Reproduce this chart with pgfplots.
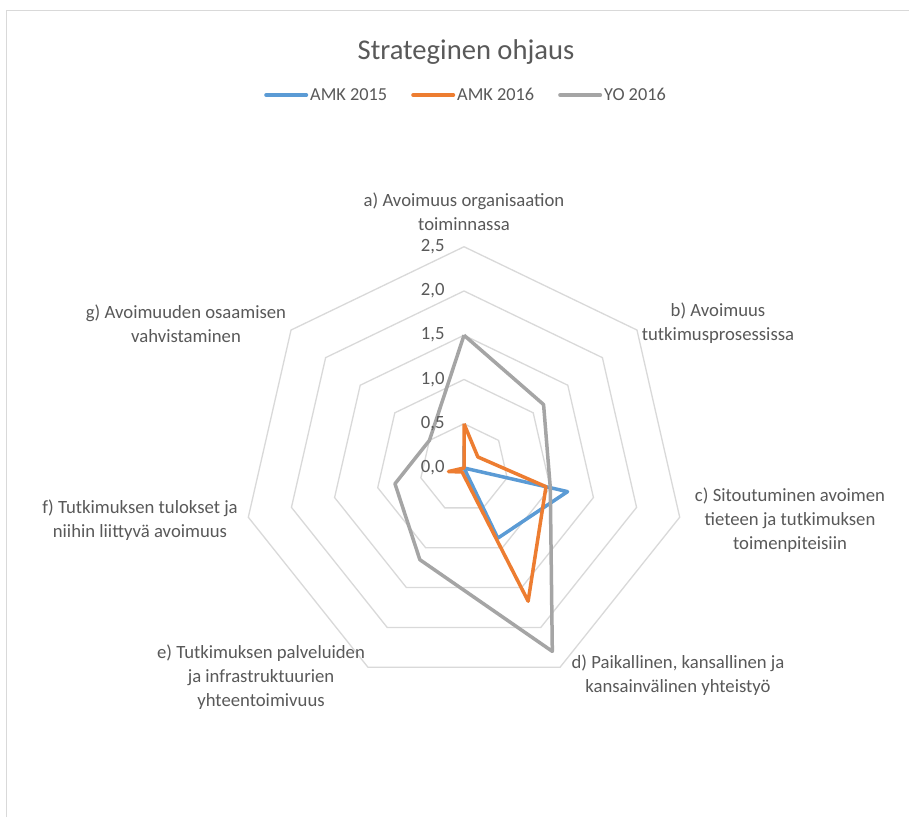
\documentclass[border=0pt]{standalone}
\usepackage{pgfplots}
\pgfplotsset{compat=1.18}
\usepackage{pgfplotstable}
\usepackage{fontspec}
\setmainfont{Carlito}
\definecolor{cblue}{HTML}{5B9BD5}
\definecolor{corange}{HTML}{ED7D31}
\definecolor{cgray}{HTML}{A5A5A5}
\definecolor{ctext}{HTML}{595959}
\definecolor{cgrid}{HTML}{D9D9D9}

% angles of the seven spokes (clockwise from top), closed
\pgfplotstableread{
ang one
90 1
38.5714 1
-12.8571 1
-64.2857 1
-115.7143 1
-167.1429 1
-218.5714 1
-270 1
}\angles

% AMK 2015
\pgfplotstableread{
ang r
90 0.25
38.5714 0
-12.8571 1.2
-64.2857 0.88
-115.7143 0
-167.1429 0
-218.5714 0
-270 0.25
}\amkA

% AMK 2016
\pgfplotstableread{
ang r
90 0.5
38.5714 0.2
-12.8571 0.95
-64.2857 1.67
-115.7143 0.05
-167.1429 0.18
-218.5714 0
-270 0.5
}\amkB

% YO 2016
\pgfplotstableread{
ang r
90 1.5
38.5714 1.15
-12.8571 1.0
-64.2857 2.3
-115.7143 1.15
-167.1429 0.8
-218.5714 0.5
-270 1.5
}\yoB

\begin{document}
\begin{tikzpicture}
\path[use as bounding box] (0,0) rectangle (909pt,817pt);
\fill[white] (0,0) rectangle (909pt,817pt);
\draw[cgrid, line width=1pt] (6pt,0) -- (6pt,806pt) -- (909pt,806pt);
\begin{axis}[
  at={(0,0)}, anchor=south west,
  scale only axis, width=909pt, height=817pt,
  xmin=-5.2429, xmax=5.0282, ymin=-3.9435, ymax=5.2881,
  hide axis, clip=false,
  legend columns=3,
  legend style={at={(0.5127,0.8837)}, anchor=center, draw=none, fill=none,
    font=\fontsize{18.3}{22}\selectfont, text=ctext,
    /tikz/every even column/.append style={column sep=22pt}},
  legend image code/.code={\draw[#1, line cap=round, line width=4pt] (0pt,0pt) -- (40pt,0pt);},
]
\pgfplotsinvokeforeach{0.5,1.0,1.5,2.0,2.5}{
  \addplot[cgrid, line width=1.3pt, forget plot]
    table[x expr={#1*\thisrow{one}*cos(\thisrow{ang})}, y expr={#1*\thisrow{one}*sin(\thisrow{ang})}] {\angles};
}
\addplot[cblue, line width=3.5pt, line join=round]
  table[x expr={\thisrow{r}*cos(\thisrow{ang})}, y expr={\thisrow{r}*sin(\thisrow{ang})}] {\amkA};
\addlegendentry{AMK 2015}
\addplot[corange, line width=3.5pt, line join=round]
  table[x expr={\thisrow{r}*cos(\thisrow{ang})}, y expr={\thisrow{r}*sin(\thisrow{ang})}] {\amkB};
\addlegendentry{AMK 2016}
\addplot[cgray, line width=3.5pt, line join=round]
  table[x expr={\thisrow{r}*cos(\thisrow{ang})}, y expr={\thisrow{r}*sin(\thisrow{ang})}] {\yoB};
\addlegendentry{YO 2016}
\end{axis}
\begin{scope}[every node/.style={text=ctext, font=\fontsize{18.7}{24}\selectfont}]
% radial tick labels
\node[anchor=east] at (448pt,349pt) {0,0};
\node[anchor=east] at (448pt,393pt) {0,5};
\node[anchor=east] at (448pt,437pt) {1,0};
\node[anchor=east] at (448pt,482pt) {1,5};
\node[anchor=east] at (448pt,526pt) {2,0};
\node[anchor=east] at (448pt,570pt) {2,5};
% category labels
\node[align=center] at (464pt,605pt) {a) Avoimuus organisaation\\toiminnassa};
\node[align=center] at (718pt,494pt) {b) Avoimuus\\tutkimusprosessissa};
\node[align=center] at (790pt,297pt) {c) Sitoutuminen avoimen\\tieteen ja tutkimuksen\\toimenpiteisiin};
\node[align=center] at (678pt,142pt) {d) Paikallinen, kansallinen ja\\kansainvälinen yhteistyö};
\node[align=center] at (261pt,140pt) {e) Tutkimuksen palveluiden\\ja infrastruktuurien\\yhteentoimivuus};
\node[align=center] at (140pt,297pt) {f) Tutkimuksen tulokset ja\\niihin liittyvä avoimuus};
\node[align=center] at (186pt,493pt) {g) Avoimuuden osaamisen\\vahvistaminen};
\end{scope}
\node[text=ctext, font=\fontsize{28.6}{34}\selectfont] at (466pt,765pt) {Strateginen ohjaus};
\end{tikzpicture}
\end{document}
